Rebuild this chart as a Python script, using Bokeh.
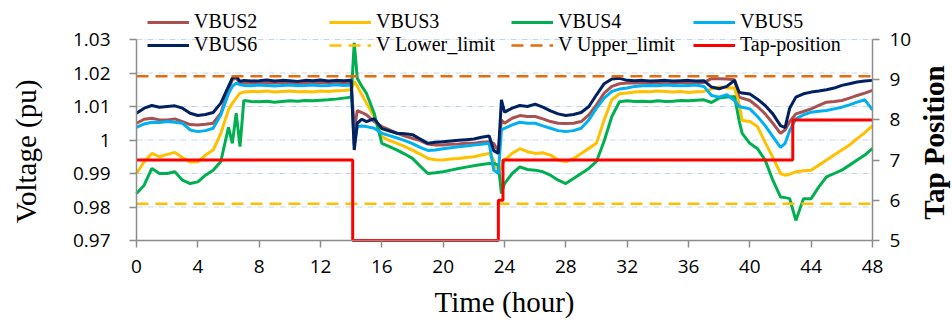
import math
from bokeh.plotting import figure
from bokeh.models import (Range1d, LinearAxis, FixedTicker, Legend, LegendItem, Label)
from bokeh.embed import file_html
from bokeh.resources import INLINE

# ---------------- data ----------------
hours = [
    0, 0.5, 1, 1.5, 2, 2.5, 3, 3.5, 4, 4.5, 5, 5.5, 6,
    6.25, 6.5, 6.75,
    7, 7.5, 8, 8.5, 9, 9.5, 10, 10.5, 11, 11.5, 12, 12.5, 13, 13.5, 14,
    14.2, 14.4, 14.7,
    15, 15.5, 16, 16.5, 17, 17.5, 18, 18.5, 19, 19.5, 20, 20.5, 21, 21.5, 22, 22.5, 23,
    23.3, 23.6, 23.8,
    24, 24.5, 25, 25.5, 26, 26.5, 27, 27.5, 28, 28.5, 29, 29.5, 30, 30.5, 31, 31.5,
    32, 32.5, 33, 33.5, 34, 34.5, 35, 35.5, 36, 36.5, 37, 37.5, 38, 38.5, 39,
    39.3,
    39.5, 40, 40.5, 41, 41.5, 42,
    42.3, 42.6,
    43, 43.5, 44, 44.5, 45, 45.5, 46, 46.5, 47, 47.5, 48,
]

vbus6 = [
    1.0080, 1.0095, 1.0103, 1.0098, 1.0100, 1.0102, 1.0095, 1.0080, 1.0073, 1.0076, 1.0082, 1.0110, 1.0160,
    1.0185, 1.0190, 1.0175,
    1.0178, 1.0176, 1.0177, 1.0179, 1.0176, 1.0178, 1.0177, 1.0175, 1.0178, 1.0177, 1.0179, 1.0176, 1.0178, 1.0177, 1.0178,
    0.9970, 1.0050, 1.0062,
    1.0055, 1.0064, 1.0034, 1.0027, 1.0020, 1.0019, 1.0016, 1.0003, 0.9990, 0.9993, 0.9995, 0.9997, 0.9999, 1.0001, 1.0003, 1.0008, 1.0012,
    0.9968, 0.9960, 1.0120,
    1.0083, 1.0095, 1.0103, 1.0100, 1.0107, 1.0098, 1.0087, 1.0078, 1.0073, 1.0076, 1.0082, 1.0100, 1.0135, 1.0168, 1.0182, 1.0184,
    1.0178, 1.0177, 1.0178, 1.0176, 1.0177, 1.0178, 1.0176, 1.0177, 1.0178, 1.0176, 1.0177, 1.0158, 1.0153, 1.0160, 1.0178,
    1.0143,
    1.0140, 1.0137, 1.0122, 1.0103, 1.0078, 1.0043,
    1.0037, 1.0095,
    1.0128, 1.0138, 1.0143, 1.0146, 1.0150, 1.0155, 1.0163, 1.0168, 1.0173, 1.0176, 1.0178,
]

vbus2 = [
    1.0050, 1.0062, 1.0065, 1.0060, 1.0060, 1.0063, 1.0055, 1.0046, 1.0045, 1.0047, 1.0050, 1.0080, 1.0150,
    1.0180, 1.0185, 1.0170,
    1.0170, 1.0171, 1.0169, 1.0171, 1.0170, 1.0172, 1.0170, 1.0169, 1.0171, 1.0170, 1.0172, 1.0170, 1.0171, 1.0170, 1.0172,
    1.0030, 1.0088, 1.0082,
    1.0075, 1.0055, 1.0040, 1.0030, 1.0020, 1.0012, 1.0005, 0.9998, 0.9988, 0.9985, 0.9985, 0.9987, 0.9988, 0.9990, 0.9990, 0.9993, 0.9995,
    0.9990, 0.9965, 1.0060,
    1.0050, 1.0065, 1.0073, 1.0070, 1.0070, 1.0063, 1.0055, 1.0050, 1.0049, 1.0050, 1.0055, 1.0075, 1.0105, 1.0140, 1.0160, 1.0168,
    1.0170, 1.0171, 1.0170, 1.0172, 1.0170, 1.0171, 1.0170, 1.0172, 1.0170, 1.0171, 1.0172, 1.0183, 1.0183, 1.0182, 1.0180,
    1.0128,
    1.0125, 1.0118, 1.0100, 1.0078, 1.0050, 1.0020,
    1.0030, 1.0055,
    1.0078, 1.0085, 1.0093, 1.0103, 1.0113, 1.0115, 1.0118, 1.0125, 1.0133, 1.0140, 1.0148,
]

vbus5 = [
    1.0038, 1.0048, 1.0053, 1.0052, 1.0055, 1.0053, 1.0050, 1.0030, 1.0025, 1.0028, 1.0035, 1.0075, 1.0139,
    1.0160, 1.0170, 1.0165,
    1.0163, 1.0162, 1.0164, 1.0163, 1.0161, 1.0163, 1.0164, 1.0162, 1.0163, 1.0164, 1.0162, 1.0163, 1.0165, 1.0163, 1.0164,
    0.9985, 1.0040, 1.0042,
    1.0040, 1.0035, 1.0020, 1.0013, 1.0006, 0.9998, 0.9989, 0.9978, 0.9969, 0.9970, 0.9974, 0.9977, 0.9980, 0.9982, 0.9985, 0.9987, 0.9990,
    0.9910, 0.9900, 1.0030,
    1.0035, 1.0045, 1.0053, 1.0050, 1.0050, 1.0042, 1.0035, 1.0028, 1.0025, 1.0028, 1.0035, 1.0060, 1.0095, 1.0125, 1.0145, 1.0152,
    1.0155, 1.0160, 1.0162, 1.0163, 1.0162, 1.0164, 1.0163, 1.0162, 1.0163, 1.0164, 1.0160, 1.0133, 1.0128, 1.0135, 1.0118,
    1.0100,
    1.0098, 1.0093, 1.0070, 1.0043, 1.0010, 0.9978,
    0.9990, 1.0028,
    1.0063, 1.0075, 1.0083, 1.0086, 1.0088, 1.0093, 1.0098, 1.0105, 1.0113, 1.0120, 1.0090,
]

vbus3 = [
    0.9900, 0.9935, 0.9960, 0.9950, 0.9957, 0.9963, 0.9948, 0.9934, 0.9935, 0.9955, 0.9970, 1.0020, 1.0090,
    1.0110, 1.0125, 1.0140,
    1.0143, 1.0145, 1.0144, 1.0146, 1.0143, 1.0145, 1.0146, 1.0144, 1.0145, 1.0143, 1.0146, 1.0145, 1.0147, 1.0148, 1.0150,
    1.0175, 1.0160, 1.0135,
    1.0110, 1.0070, 1.0010, 0.9998, 0.9990, 0.9980, 0.9970, 0.9958, 0.9945, 0.9941, 0.9940, 0.9943, 0.9945, 0.9948, 0.9950, 0.9955, 0.9960,
    0.9940, 0.9900, 0.9920,
    0.9940, 0.9960, 0.9974, 0.9965, 0.9960, 0.9962, 0.9955, 0.9940, 0.9935, 0.9945, 0.9960, 0.9975, 0.9990, 1.0060, 1.0120, 1.0138,
    1.0140, 1.0143, 1.0145, 1.0144, 1.0146, 1.0145, 1.0143, 1.0145, 1.0142, 1.0144, 1.0145, 1.0152, 1.0158, 1.0155, 1.0155,
    1.0108,
    1.0058, 1.0055, 1.0040, 0.9993, 0.9948, 0.9900,
    0.9895, 0.9898,
    0.9905, 0.9908, 0.9910, 0.9925, 0.9940, 0.9955, 0.9970, 0.9985, 1.0004, 1.0022, 1.0043,
]

vbus4 = [
    0.9840, 0.9865, 0.9915, 0.9900, 0.9900, 0.9905, 0.9880, 0.9870, 0.9875, 0.9895, 0.9910, 0.9936, 1.0038,
    0.9990, 1.0080, 0.9980,
    1.0118, 1.0115, 1.0114, 1.0116, 1.0113, 1.0115, 1.0117, 1.0116, 1.0118, 1.0117, 1.0119, 1.0120, 1.0122, 1.0125, 1.0128,
    1.0290, 1.0184, 1.0160,
    1.0139, 1.0080, 0.9990, 0.9980, 0.9970, 0.9958, 0.9945, 0.9922, 0.9900, 0.9902, 0.9905, 0.9910, 0.9915, 0.9919, 0.9923, 0.9927, 0.9930,
    0.9930, 0.9925, 0.9840,
    0.9870, 0.9900, 0.9920, 0.9912, 0.9910, 0.9905, 0.9895, 0.9880, 0.9870, 0.9885, 0.9900, 0.9915, 0.9936, 0.9997, 1.0070, 1.0114,
    1.0117, 1.0115, 1.0116, 1.0114, 1.0117, 1.0115, 1.0116, 1.0118, 1.0117, 1.0119, 1.0120, 1.0112, 1.0125, 1.0128, 1.0130,
    1.0058,
    1.0020, 0.9990, 0.9974, 0.9940, 0.9880, 0.9830,
    0.9828, 0.9825,
    0.9760, 0.9825, 0.9825, 0.9860, 0.9890, 0.9900, 0.9910, 0.9925, 0.9940, 0.9955, 0.9975,
]

v_lower_limit = 0.981
v_upper_limit = 1.019

tap_hours = [0, 14.1, 23.6, 23.9, 42.8, 48]
tap_position = [7, 5, 6, 7, 8, 8]

x_ticks = [0, 4, 8, 12, 16, 20, 24, 28, 32, 36, 40, 44, 48]
v_ticks = [0.97, 0.98, 0.99, 1.0, 1.01, 1.02, 1.03]
v_tick_labels = ["0.97", "0.98", "0.99", "1", "1.01", "1.02", "1.03"]
tap_ticks = [5, 6, 7, 8, 9, 10]

series_names = ["VBUS2", "VBUS3", "VBUS4", "VBUS5", "VBUS6"]
series_values = [vbus2, vbus3, vbus4, vbus5, vbus6]
series_colors = ["#A9514E", "#FFC000", "#00B050", "#00B0F0", "#002060"]

# ---------------- layout geometry (pixels) ----------------
# The drawing area covers the whole canvas; the axes are pinned where the
# reference has them, so the titles and legend can sit anywhere without clipping.
W, H = 952, 320
AX_LEFT, AX_RIGHT = 136, 872      # x of the left and right value axes
AX_TOP, AX_BOTTOM = 39, 240       # y of the top and bottom of the value axes

h_lo, h_hi = x_ticks[0], x_ticks[-1]
v_lo, v_hi = v_ticks[0], v_ticks[-1]
t_lo, t_hi = tap_ticks[0], tap_ticks[-1]

px_h = (AX_RIGHT - AX_LEFT) / (h_hi - h_lo)
px_v = (AX_BOTTOM - AX_TOP) / (v_hi - v_lo)
px_t = (AX_BOTTOM - AX_TOP) / (t_hi - t_lo)


def hx(px):
    return h_lo + (px - AX_LEFT) / px_h


def vy(py):
    return v_lo + (AX_BOTTOM - py) / px_v


SERIF = "Liberation Serif"
SANS = "Open Sans"
AXIS_GRAY = "#8C8C8C"

p = figure(width=W, height=H,
           x_range=Range1d(hx(0), hx(W)), y_range=Range1d(vy(H), vy(0)),
           output_backend="svg", toolbar_location=None,
           min_border=0, min_border_left=0, min_border_right=0,
           min_border_top=0, min_border_bottom=0)
p.outline_line_color = None
p.background_fill_color = "white"
p.border_fill_color = "white"
p.extra_y_ranges = {"tap": Range1d(t_lo - (H - AX_BOTTOM) / px_t, t_hi + AX_TOP / px_t)}

p.xgrid.visible = False
p.ygrid.visible = False

# horizontal grid lines at the voltage ticks, only across the plot area
p.segment(x0=[h_lo] * len(v_ticks), y0=v_ticks, x1=[h_hi] * len(v_ticks), y1=v_ticks,
          line_color="#C5D6EC", line_width=1, line_dash="6 2 1 2", level="underlay")

renderers = {}
for name, vals, col in zip(series_names, series_values, series_colors):
    renderers[name] = p.line(hours, vals, line_color=col, line_width=3)

r_low = p.line([h_lo, h_hi], [v_lower_limit, v_lower_limit], line_color="#FFC000",
               line_width=2.5, line_dash="12 7")
r_up = p.line([h_lo, h_hi], [v_upper_limit, v_upper_limit], line_color="#E46C0A",
              line_width=2.5, line_dash="12 7")
r_tap = p.step(tap_hours, tap_position, mode="after", line_color="#FF0000",
               line_width=3, y_range_name="tap")

# x axis, pinned at the bottom of the value range
xa = p.xaxis[0]
xa.fixed_location = v_lo
xa.bounds = (h_lo, h_hi)
xa.ticker = FixedTicker(ticks=x_ticks)
xa.major_label_text_font = SANS
xa.major_label_text_font_size = "19px"
xa.major_label_standoff = 12

# left axis, pinned at hour 0
ya = p.yaxis[0]
ya.fixed_location = h_lo
ya.bounds = (v_lo, v_hi)
ya.ticker = FixedTicker(ticks=v_ticks)
ya.major_label_overrides = dict(zip(v_ticks, v_tick_labels))
ya.major_label_text_font = SANS
ya.major_label_text_font_size = "19px"
ya.major_label_standoff = 19

# right axis (tap position), pinned at hour 48
ra = LinearAxis(y_range_name="tap", ticker=FixedTicker(ticks=tap_ticks),
                bounds=(t_lo, t_hi), fixed_location=h_hi)
ra.major_label_text_font = SANS
ra.major_label_text_font_size = "19px"
ra.major_label_standoff = 10
p.add_layout(ra, "right")

for ax in (xa, ya, ra):
    ax.axis_label = None
    ax.axis_line_color = AXIS_GRAY
    ax.axis_line_width = 1.5
    ax.major_tick_line_color = AXIS_GRAY
    ax.major_tick_line_width = 1.5
    ax.major_tick_out = 7
    ax.major_tick_in = 0
    ax.minor_tick_line_color = None
    ax.major_label_text_color = "black"

# axis titles
title_style = dict(text_font=SERIF, text_font_size="29px", text_color="black",
                   text_align="center", text_baseline="middle")
p.add_layout(Label(x=hx(25), y=vy(151), text="Voltage (pu)", angle=math.pi / 2, **title_style))
p.add_layout(Label(x=hx(504), y=vy(301), text="Time (hour)", **title_style))
p.add_layout(Label(x=hx(933), y=vy(142), text="Tap Position", angle=math.pi / 2,
                   text_font_style="bold", **title_style))

# legend (two rows of four, above the 1.03 line)
items = [LegendItem(label=n, renderers=[renderers[n]]) for n in series_names]
items += [LegendItem(label="V Lower_limit", renderers=[r_low]),
          LegendItem(label="V Upper_limit", renderers=[r_up]),
          LegendItem(label="Tap-position", renderers=[r_tap])]
legend = Legend(items=items, location=(147, H - 56), orientation="horizontal", ncols=4,
                label_text_font=SERIF, label_text_font_size="20px",
                label_text_color="black", glyph_width=42, glyph_height=20,
                label_height=20, label_width=135, label_standoff=5, spacing=0,
                padding=0, margin=0,
                border_line_color=None, background_fill_alpha=0)
p.add_layout(legend)

open("out.html", "w").write(file_html(p, INLINE))
